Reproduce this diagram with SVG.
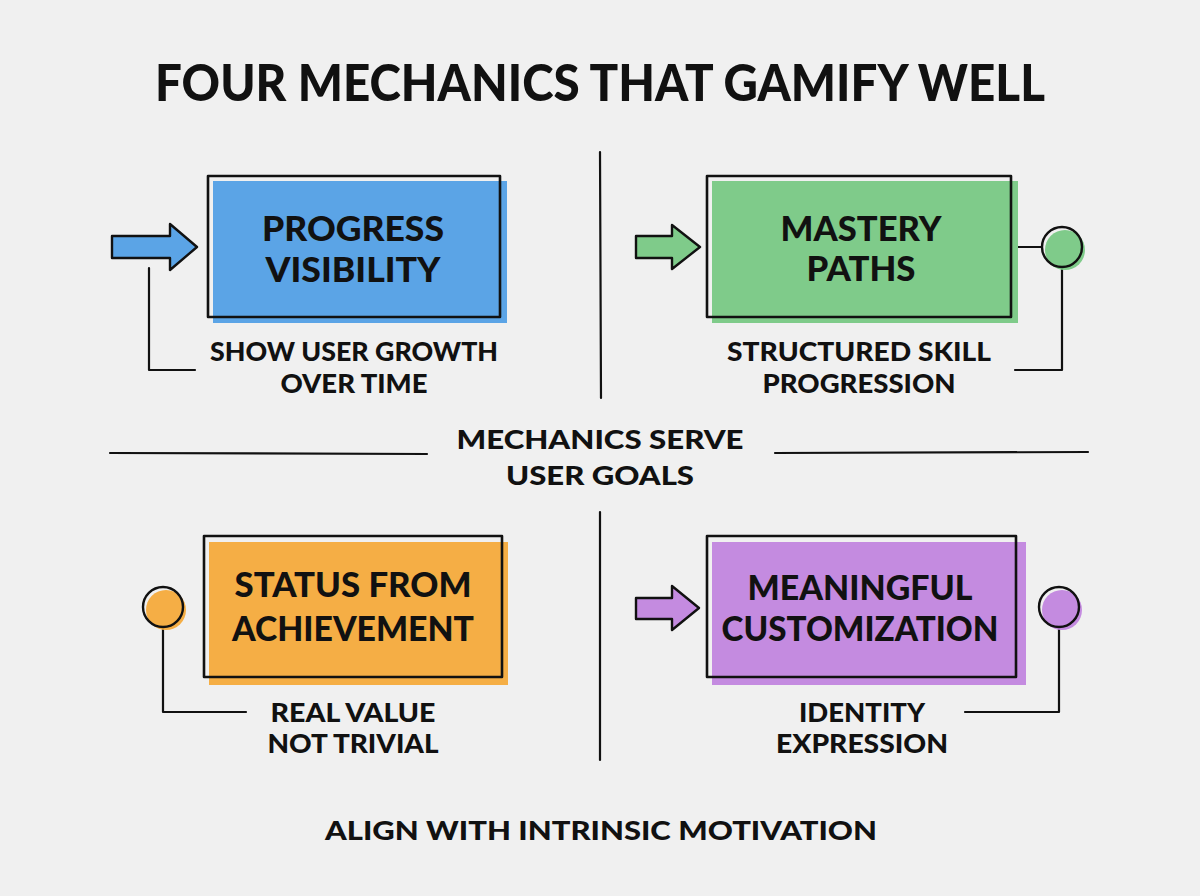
<svg xmlns="http://www.w3.org/2000/svg" width="1200" height="896" viewBox="0 0 1200 896">
<style>
.t{font-family:Lato,"Open Sans","Liberation Sans",sans-serif;font-weight:900;fill:#111;text-anchor:middle}
.title{font-size:52px}
.box{font-size:35px}
.sub{font-size:26px}
.frame{fill:none;stroke:#111;stroke-width:2.6;stroke-linejoin:round}
.ln{fill:none;stroke:#111;stroke-width:2.2;stroke-linecap:round;stroke-linejoin:round}
.arw{stroke:#111;stroke-width:2.4;stroke-linejoin:round}
</style>
<rect width="1200" height="896" fill="#f0f0f0"/>
<text class="t title" x="600" y="101" textLength="890" lengthAdjust="spacingAndGlyphs">FOUR MECHANICS THAT GAMIFY WELL</text>

<g id="dividers">
<path class="ln" d="M600 152 L601 398"/>
<path class="ln" d="M600 512 L600 760"/>
<path class="ln" d="M110 453 L427 454"/>
<path class="ln" d="M775 453 L1088 452"/>
</g>

<g id="connectors">
<path class="ln" d="M149 268 L149 370 L195 370"/>
<path class="ln" d="M1011 247 L1042 247"/>
<path class="ln" d="M1062 267 L1062 370 L1015 370"/>
<path class="ln" d="M163 627 L163 712 L246 712"/>
<path class="ln" d="M1059 627 L1059 712 L965 712"/>
</g>

<g id="progress-visibility">
<rect x="213" y="181" width="294" height="142" fill="#5ba4e6"/>
<rect class="frame" x="208" y="176" width="292" height="141"/>
<polygon class="arw" fill="#5ba4e6" points="112,236 170,236 170,224 197,247 170,270 170,258 112,258"/>
<text class="t box" x="353" y="241" textLength="182" lengthAdjust="spacingAndGlyphs">PROGRESS</text>
<text class="t box" x="353" y="282" textLength="175" lengthAdjust="spacingAndGlyphs">VISIBILITY</text>
<text class="t sub" x="354" y="361" textLength="288" lengthAdjust="spacingAndGlyphs">SHOW USER GROWTH</text>
<text class="t sub" x="354" y="393" textLength="147" lengthAdjust="spacingAndGlyphs">OVER TIME</text>
</g>

<g id="mastery-paths">
<rect x="712" y="181" width="306" height="142" fill="#7fcb8a"/>
<rect class="frame" x="707" y="176" width="304" height="141"/>
<polygon class="arw" fill="#7fcb8a" points="636,236 672,236 672,225 700,247 672,269 672,258 636,258"/>
<circle cx="1065" cy="250" r="20" fill="#7fcb8a"/>
<circle cx="1062" cy="247" r="20" fill="none" stroke="#111" stroke-width="2.4"/>
<text class="t box" x="861" y="241" textLength="161" lengthAdjust="spacingAndGlyphs">MASTERY</text>
<text class="t box" x="861" y="281" textLength="109" lengthAdjust="spacingAndGlyphs">PATHS</text>
<text class="t sub" x="859" y="361" textLength="264" lengthAdjust="spacingAndGlyphs">STRUCTURED SKILL</text>
<text class="t sub" x="859" y="393" textLength="193" lengthAdjust="spacingAndGlyphs">PROGRESSION</text>
</g>

<g id="middle">
<text class="t sub" x="600" y="449" textLength="287" lengthAdjust="spacingAndGlyphs">MECHANICS SERVE</text>
<text class="t sub" x="600" y="485" textLength="188" lengthAdjust="spacingAndGlyphs">USER GOALS</text>
</g>

<g id="status-from-achievement">
<rect x="209" y="542" width="299" height="143" fill="#f5ae45"/>
<rect class="frame" x="204" y="536" width="298" height="141"/>
<circle cx="166" cy="610" r="20" fill="#f5ae45"/>
<circle cx="163" cy="607" r="20" fill="none" stroke="#111" stroke-width="2.4"/>
<text class="t box" x="353" y="597" textLength="237" lengthAdjust="spacingAndGlyphs">STATUS FROM</text>
<text class="t box" x="353" y="641" textLength="242" lengthAdjust="spacingAndGlyphs">ACHIEVEMENT</text>
<text class="t sub" x="353" y="722" textLength="165" lengthAdjust="spacingAndGlyphs">REAL VALUE</text>
<text class="t sub" x="353" y="753" textLength="171" lengthAdjust="spacingAndGlyphs">NOT TRIVIAL</text>
</g>

<g id="meaningful-customization">
<rect x="712" y="542" width="314" height="143" fill="#c48be0"/>
<rect class="frame" x="707" y="536" width="309" height="141"/>
<polygon class="arw" fill="#c48be0" points="636,598 672,598 672,586 699,608 672,630 672,619 636,619"/>
<circle cx="1062" cy="610" r="20" fill="#c48be0"/>
<circle cx="1059" cy="607" r="20" fill="none" stroke="#111" stroke-width="2.4"/>
<text class="t box" x="860" y="600" textLength="225" lengthAdjust="spacingAndGlyphs">MEANINGFUL</text>
<text class="t box" x="860" y="641" textLength="277" lengthAdjust="spacingAndGlyphs">CUSTOMIZATION</text>
<text class="t sub" x="862" y="722" textLength="126" lengthAdjust="spacingAndGlyphs">IDENTITY</text>
<text class="t sub" x="862" y="753" textLength="172" lengthAdjust="spacingAndGlyphs">EXPRESSION</text>
</g>

<text class="t sub" x="601" y="840" textLength="552" lengthAdjust="spacingAndGlyphs">ALIGN WITH INTRINSIC MOTIVATION</text>
</svg>
